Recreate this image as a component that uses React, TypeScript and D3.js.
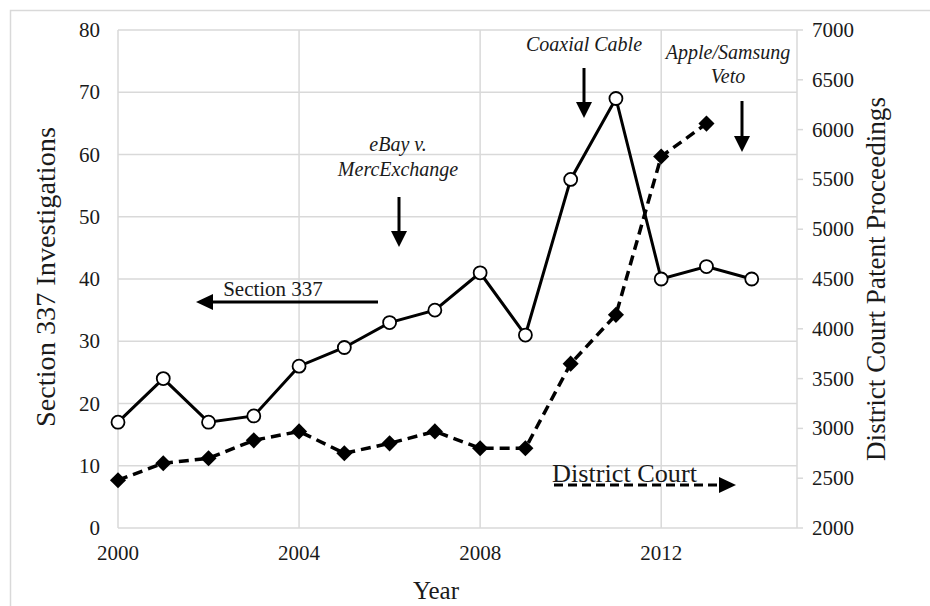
import React from 'react';
import * as d3 from 'd3';

const years = [2000, 2001, 2002, 2003, 2004, 2005, 2006, 2007, 2008, 2009, 2010, 2011, 2012, 2013, 2014];
const section337 = [17, 24, 17, 18, 26, 29, 33, 35, 41, 31, 56, 69, 40, 42, 40];
const districtYears = [2000, 2001, 2002, 2003, 2004, 2005, 2006, 2007, 2008, 2009, 2010, 2011, 2012, 2013];
const districtCourt = [2480, 2650, 2700, 2880, 2970, 2750, 2850, 2970, 2800, 2800, 3650, 4140, 5730, 6060];
const xTicks = [2000, 2004, 2008, 2012];
const leftTicks = [0, 10, 20, 30, 40, 50, 60, 70, 80];
const rightTicks = [2000, 2500, 3000, 3500, 4000, 4500, 5000, 5500, 6000, 6500, 7000];

const W = 930;
const H = 606;
const left = 118;
const right = 797;
const top = 30;
const bottom = 528;
const font = '"Liberation Serif", "DejaVu Serif", serif';
const grid = '#d9d9d9';
const ink = '#1a1a1a';

export default function App() {
  const x = d3.scaleLinear().domain([2000, 2015]).range([left, right]);
  const yL = d3.scaleLinear().domain([0, 80]).range([bottom, top]);
  const yR = d3.scaleLinear().domain([2000, 7000]).range([bottom, top]);

  const line337 = d3
    .line<number>()
    .x((_, i) => x(years[i]))
    .y((d) => yL(d));
  const lineDC = d3
    .line<number>()
    .x((_, i) => x(districtYears[i]))
    .y((d) => yR(d));

  const diamond = d3.symbol().type(d3.symbolDiamond2).size(165)() as string;

  // vertical arrow pointing down, tip at y2
  const downArrow = (cx: number, y1: number, y2: number) => (
    <g>
      <line x1={cx} x2={cx} y1={y1} y2={y2 - 14} stroke="#000" strokeWidth={3} />
      <path d={`M${cx - 8},${y2 - 16} L${cx + 8},${y2 - 16} L${cx},${y2} Z`} fill="#000" />
    </g>
  );

  return (
    <div style={{ position: 'absolute', left: 0, top: 0 }}>
      <svg width={W} height={H} style={{ display: 'block', background: '#fff' }}>
        <rect x={10.5} y={10.5} width={W} height={H} fill="none" stroke={grid} strokeWidth={1.5} />

        {/* gridlines */}
        {leftTicks.map((t) => (
          <line key={'h' + t} x1={left} x2={right} y1={yL(t)} y2={yL(t)} stroke={grid} strokeWidth={1.5} />
        ))}
        {xTicks.map((t) => (
          <line key={'v' + t} x1={x(t)} x2={x(t)} y1={top} y2={bottom} stroke={grid} strokeWidth={1.5} />
        ))}
        <line x1={right} x2={right} y1={top} y2={bottom} stroke={grid} strokeWidth={1.5} />
        {rightTicks.map((t) => (
          <line key={'rt' + t} x1={right} x2={right + 6} y1={yR(t)} y2={yR(t)} stroke={grid} strokeWidth={1.5} />
        ))}

        {/* tick labels */}
        {leftTicks.map((t) => (
          <text key={'lt' + t} x={100} y={yL(t) + 7} textAnchor="end" fontFamily={font} fontSize={21} fill={ink}>
            {t}
          </text>
        ))}
        {rightTicks.map((t) => (
          <text key={'rl' + t} x={812} y={yR(t) + 7} fontFamily={font} fontSize={21} fill={ink}>
            {t}
          </text>
        ))}
        {xTicks.map((t) => (
          <text key={'xl' + t} x={x(t)} y={bottom + 32} textAnchor="middle" fontFamily={font} fontSize={21} fill={ink}>
            {t}
          </text>
        ))}

        {/* axis titles */}
        <text x={436} y={599} textAnchor="middle" fontFamily={font} fontSize={25} fill={ink}>
          Year
        </text>
        <text
          transform={`translate(55,277) rotate(-90)`}
          textAnchor="middle"
          fontFamily={font}
          fontSize={27}
          textLength={300}
          lengthAdjust="spacingAndGlyphs"
          fill={ink}
        >
          Section 337 Investigations
        </text>
        <text
          transform={`translate(885,279) rotate(-90)`}
          textAnchor="middle"
          fontFamily={font}
          fontSize={27}
          textLength={364}
          lengthAdjust="spacingAndGlyphs"
          fill={ink}
        >
          District Court Patent Proceedings
        </text>

        {/* series */}
        <path d={lineDC(districtCourt) ?? ''} fill="none" stroke="#000" strokeWidth={3.5} strokeDasharray="10,6" />
        {districtCourt.map((d, i) => (
          <path key={'d' + i} d={diamond} transform={`translate(${x(districtYears[i])},${yR(d)})`} fill="#000" />
        ))}
        <path d={line337(section337) ?? ''} fill="none" stroke="#000" strokeWidth={3} />
        {section337.map((d, i) => (
          <circle key={'c' + i} cx={x(years[i])} cy={yL(d)} r={6.5} fill="#fff" stroke="#000" strokeWidth={1.8} />
        ))}

        {/* annotations */}
        <g fontFamily={font} fontStyle="italic" fontSize={20} fill={ink} textAnchor="middle">
          <text x={398} y={151}>eBay v.</text>
          <text x={398} y={176}>MercExchange</text>
          <text x={584} y={51}>Coaxial Cable</text>
          <text x={728} y={59}>Apple/Samsung</text>
          <text x={728} y={83}>Veto</text>
        </g>
        {downArrow(399, 197, 247)}
        {downArrow(584, 68, 118)}
        {downArrow(742, 101, 152)}

        <text x={273} y={296} textAnchor="middle" fontFamily={font} fontSize={21} fill={ink}>
          Section 337
        </text>
        <line x1={378} x2={210} y1={302} y2={302} stroke="#000" strokeWidth={3} />
        <path d="M196,302 L213,294 L213,310 Z" fill="#000" />

        <text x={552} y={482} fontFamily={font} fontSize={26} textLength={145} lengthAdjust="spacingAndGlyphs" fill={ink}>
          District Court
        </text>
        <line x1={554} x2={722} y1={485} y2={485} stroke="#000" strokeWidth={3} strokeDasharray="9,5" />
        <path d="M736,485 L719,477 L719,493 Z" fill="#000" />
      </svg>
    </div>
  );
}
